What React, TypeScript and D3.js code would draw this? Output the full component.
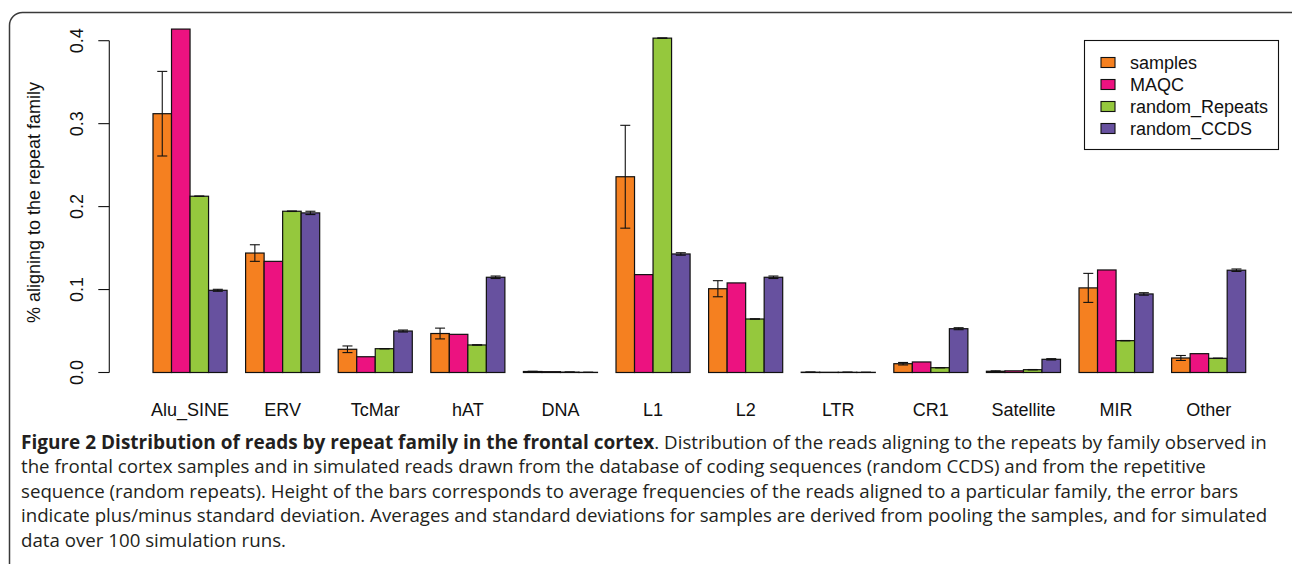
import React from "react";
import * as d3 from "d3";

const categories = ["Alu_SINE", "ERV", "TcMar", "hAT", "DNA", "L1", "L2", "LTR", "CR1", "Satellite", "MIR", "Other"];
const seriesNames = ["samples", "MAQC", "random_Repeats", "random_CCDS"];
const seriesColors = ["#F58020", "#EC1280", "#95C83D", "#67519F"];

const samples = [0.312, 0.144, 0.028, 0.047, 0.0012, 0.236, 0.101, 0.0004, 0.0106, 0.0015, 0.102, 0.0175];
const samplesSd = [0.051, 0.010, 0.004, 0.0065, 0.0003, 0.062, 0.0097, 0.0002, 0.0015, 0.0005, 0.0175, 0.003];
const maqc = [0.414, 0.134, 0.019, 0.046, 0.0010, 0.118, 0.108, 0.0003, 0.0127, 0.0020, 0.1236, 0.0227];
const maqcSd = [0, 0, 0, 0, 0, 0, 0, 0, 0, 0, 0, 0];
const randomRepeats = [0.2125, 0.1944, 0.0287, 0.0332, 0.0005, 0.4031, 0.0645, 0.0003, 0.0058, 0.0034, 0.0384, 0.0171];
const randomRepeatsSd = [0.0003, 0.0003, 0.0002, 0.0002, 0.0001, 0.0003, 0.0002, 0.0001, 0.0002, 0.0002, 0.0002, 0.0002];
const randomCcds = [0.0991, 0.1924, 0.050, 0.1148, 0.0002, 0.1429, 0.1148, 0.0002, 0.0528, 0.0159, 0.0947, 0.1233];
const randomCcdsSd = [0.0012, 0.002, 0.0012, 0.0015, 0.0001, 0.0015, 0.0015, 0.0001, 0.0012, 0.0008, 0.0015, 0.0015];

const yTicks = [0, 0.1, 0.2, 0.3, 0.4];
const yTickLabels = ["0.0", "0.1", "0.2", "0.3", "0.4"];
const yTitle = "% aligning to the repeat family";

const captionBold = "Figure 2 Distribution of reads by repeat family in the frontal cortex";
const captionLines = [
  ". Distribution of the reads aligning to the repeats by family observed in",
  "the frontal cortex samples and in simulated reads drawn from the database of coding sequences (random CCDS) and from the repetitive",
  "sequence (random repeats). Height of the bars corresponds to average frequencies of the reads aligned to a particular family, the error bars",
  "indicate plus/minus standard deviation. Averages and standard deviations for samples are derived from pooling the samples, and for simulated",
  "data over 100 simulation runs.",
];

const values = [samples, maqc, randomRepeats, randomCcds];
const sds = [samplesSd, maqcSd, randomRepeatsSd, randomCcdsSd];

export default function App() {
  const W = 1292, H = 564;
  // R barplot units: bar width 1, group gap 1, xlim [1,60] extended 4%
  const x = d3.scaleLinear().domain([1, 60]).range([153, 1245.7]);
  const y = d3.scaleLinear().domain([0, 0.4]).range([372.5, 40.7]);
  const axisX = x(1 - 0.04 * 59);
  const chartFont = "'Liberation Sans', Arial, Helvetica, sans-serif";

  const bars: any[] = [];
  const errs: any[] = [];
  categories.forEach((c, i) => {
    seriesNames.forEach((s, j) => {
      const u0 = 1 + i * 5 + j;
      const v = values[j][i];
      const x0 = x(u0), x1 = x(u0 + 1);
      bars.push(
        <rect key={`b${i}-${j}`} x={x0} y={y(v)} width={x1 - x0} height={y(0) - y(v)}
          fill={seriesColors[j]} stroke="#111" strokeWidth={1.2} />
      );
      const sd = sds[j][i];
      if (sd > 0) {
        const cx = (x0 + x1) / 2;
        const yt = y(v + sd), yb = y(Math.max(0, v - sd));
        errs.push(
          <g key={`e${i}-${j}`} stroke="#111" strokeWidth={1.1}>
            <line x1={cx} x2={cx} y1={yt} y2={yb} />
            <line x1={cx - 5} x2={cx + 5} y1={yt} y2={yt} />
            <line x1={cx - 5} x2={cx + 5} y1={yb} y2={yb} />
          </g>
        );
      }
    });
  });

  const legendRows = [62.5, 84.5, 106.5, 128.5];

  return (
    <svg width={W} height={H} style={{ position: "absolute", left: 0, top: 0, display: "block", background: "#fff" }}>
      <rect x={9.5} y={12.5} width={1300} height={620} rx={13} ry={13} fill="none" stroke="#3a3a3a" strokeWidth={1.5} />
      {bars}
      {errs}
      {/* y axis */}
      <g stroke="#111" strokeWidth={1.1}>
        <line x1={axisX} x2={axisX} y1={y(0)} y2={y(0.4)} />
        {yTicks.map((t) => (
          <line key={t} x1={axisX - 11} x2={axisX} y1={y(t)} y2={y(t)} />
        ))}
      </g>
      {yTicks.map((t, k) => (
        <text key={`tl${t}`} transform={`translate(83,${y(t)}) rotate(-90)`} textAnchor="middle"
          fontFamily={chartFont} fontSize={18} fill="#111">{yTickLabels[k]}</text>
      ))}
      <text transform={`translate(40,202.5) rotate(-90)`} textAnchor="middle" fontFamily={chartFont} fontSize={18} fill="#111">{yTitle}</text>
      {categories.map((c, i) => (
        <text key={c} x={x(1 + i * 5 + 2)} y={416} textAnchor="middle" fontFamily={chartFont} fontSize={18} fill="#111">{c}</text>
      ))}
      {/* legend */}
      <rect x={1084.5} y={40.5} width={194} height={109} fill="#fff" stroke="#111" strokeWidth={1.1} />
      {seriesNames.map((s, j) => (
        <g key={s}>
          <rect x={1101} y={legendRows[j] - 5} width={14} height={10} fill={seriesColors[j]} stroke="#111" strokeWidth={1.1} />
          <text x={1130} y={legendRows[j] + 6.5} fontFamily={chartFont} fontSize={18} fill="#111">{s}</text>
        </g>
      ))}
      {/* caption */}
      <g fontFamily="'Open Sans', sans-serif" fontSize={18.7} fill="#231f20">
        <text x={21} y={448.5}>
          <tspan fontWeight="bold" fontSize={19}>{captionBold}</tspan>
          <tspan>{captionLines[0]}</tspan>
        </text>
        {captionLines.slice(1).map((l, k) => (
          <text key={k} x={21} y={473 + k * 24.5}>{l}</text>
        ))}
      </g>
    </svg>
  );
}
